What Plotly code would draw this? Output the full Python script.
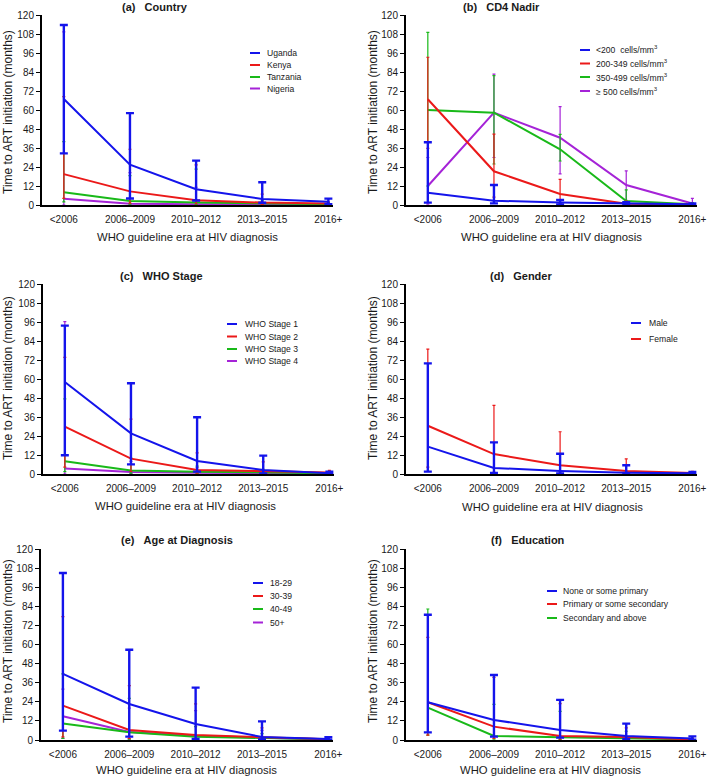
import plotly.graph_objects as go

W, H = 709, 779
FONT = "Liberation Sans, Arial, Helvetica, sans-serif"
TXT = "#1a1a1a"

CATS = ["<2006", "2006–2009", "2010–2012", "2013–2015", "2016+"]
COLORS = ["rgb(20,20,235)", "rgb(235,25,25)", "rgb(25,185,25)", "rgb(165,35,215)"]

# (a) Country — median, upper IQR, lower IQR (months)
COUNTRY_NAMES = ["Uganda", "Kenya", "Tanzania", "Nigeria"]
COUNTRY_MED = [[67, 25.5, 10, 3.8, 2.1], [19.5, 8.6, 3, 1.5, 1], [8, 2.5, 1.5, 0.8, 0.5], [4, 0.8, 0.5, 0.4, 0.3]]
COUNTRY_UP = [[113.7, 58, 28, 14.4, 4], [68.4, 35.2, 25.3, 6.9, 2], [40, 18.5, 22.7, 3, 1.5], [109.4, 20.4, 11.2, 2, 1]]
COUNTRY_LO = [[32.6, 4.1, 2.8, 1.4, 0.5], [4.2, 1.2, 0.8, 0.4, 0.2], [2, 0.5, 0.3, 0.2, 0.1], [0, 0.1, 0.1, 0.1, 0.1]]

# (b) CD4 Nadir
CD4_NAMES = ["&lt;200&nbsp;&nbsp;cells/mm<sup>3</sup>", "200-349 cells/mm<sup>3</sup>",
             "350-499 cells/mm<sup>3</sup>", "≥ 500 cells/mm<sup>3</sup>"]
CD4_MED = [[7.8, 2.7, 1.5, 0.8, 0.4], [66.8, 21.3, 6.9, 0.8, 0.3], [60, 58.3, 35.2, 2.5, 0.5], [12, 58.3, 42.5, 12.6, 1]]
CD4_UP = [[39.6, 12.6, 3.2, 1.7, 0.9], [93.3, 44.8, 16.2, 2.5, 1], [109, 81.7, 44.6, 9.5, 1.5], [30, 82.6, 62.1, 21.5, 4.2]]
CD4_LO = [[1.5, 1, 0.4, 0.2, 0.1], [35.8, 5, 1, 0.2, 0.1], [12, 25.9, 27.8, 0.6, 0.1], [0.6, 30, 19.6, 3, 0.2]]

# (c) WHO Stage
STAGE_NAMES = ["WHO Stage 1", "WHO Stage 2", "WHO Stage 3", "WHO Stage 4"]
STAGE_MED = [[58.1, 25.7, 8.2, 2.5, 0.5], [29.9, 9.7, 2.5, 1.7, 1], [8, 2.2, 1.5, 1, 0.5], [3.4, 1.2, 0.8, 0.5, 0.3]]
STAGE_UP = [[93.7, 57.3, 35.8, 11.6, 1.5], [73.7, 34.7, 13.3, 7.6, 2.3], [47.4, 10, 5, 3, 1], [96.2, 8, 4, 2, 1]]
STAGE_LO = [[11.8, 6.1, 1.5, 0.4, 0.1], [4.4, 1.7, 0.5, 0.3, 0.2], [1.5, 0.5, 0.3, 0.2, 0.1], [0, 0.2, 0.1, 0.1, 0.1]]

# (d) Gender
GENDER_NAMES = ["Male", "Female"]
GENDER_MED = [[17.3, 3.8, 1.9, 0.8, 0.4], [30.5, 12.6, 5.5, 1.9, 0.6]]
GENDER_UP = [[69.9, 20, 12.8, 5.5, 1.3], [78.9, 43.4, 26.7, 9.5, 1.7]]
GENDER_LO = [[1.5, 0.6, 0.4, 0.1, 0.1], [4.4, 1, 0.5, 0.2, 0.1]]

# (e) Age at Diagnosis
AGE_NAMES = ["18-29", "30-39", "40-49", "50+"]
AGE_MED = [[41.5, 22.6, 10, 1.9, 0.6], [21.6, 6.3, 3.1, 1.9, 0.5], [10.3, 4.8, 2.1, 1.2, 0.4], [14.9, 5, 2.6, 1.5, 0.4]]
AGE_UP = [[104.9, 56.7, 32.9, 11.7, 1.7], [77.5, 34.1, 22.7, 7.6, 1.2], [41.5, 26.2, 8.4, 4, 1], [32, 20, 18.5, 6, 1]]
AGE_LO = [[5.9, 2.1, 0.6, 0.3, 0.1], [2, 1, 0.5, 0.3, 0.1], [1, 0.5, 0.3, 0.2, 0.1], [1, 0.5, 0.3, 0.2, 0.1]]

# (f) Education
EDU_NAMES = ["None or some primary", "Primary or some secondary", "Secondary and above"]
EDU_MED = [[23.7, 12.6, 6.3, 2.5, 1], [23.7, 8.4, 2.5, 1.9, 0.4], [20.3, 2.5, 1.7, 1, 0.4]]
EDU_UP = [[78.7, 40.8, 25.2, 10.3, 2.3], [64.5, 39.4, 22.9, 7.6, 1.2], [82.3, 22.4, 18, 5.5, 1]]
EDU_LO = [[4.8, 2.1, 1.5, 0.6, 0.2], [3.1, 1, 0.5, 0.3, 0.1], [3.1, 0.5, 0.3, 0.2, 0.1]]

YTICKS = list(range(0, 121, 12))


def px(x):
    return x / W


def py(y):
    return 1 - y / H


PANELS = [
    dict(letter="(a)", title="Country", names=COUNTRY_NAMES, med=COUNTRY_MED, up=COUNTRY_UP, lo=COUNTRY_LO,
         xd=(42, 333), yd=(15, 205), tpos=(155, 7.5), ytpos=(8, 112), xtpos=(188, 237),
         leg=(250, 260, 265, [53, 65, 77, 88.5])),
    dict(letter="(b)", title="CD4 Nadir", names=CD4_NAMES, med=CD4_MED, up=CD4_UP, lo=CD4_LO,
         xd=(406, 697), yd=(15, 205), tpos=(501, 7.5), ytpos=(373, 112), xtpos=(551, 237),
         leg=(580, 590, 594, [50, 63.5, 77, 91])),
    dict(letter="(c)", title="WHO Stage", names=STAGE_NAMES, med=STAGE_MED, up=STAGE_UP, lo=STAGE_LO,
         xd=(43, 334), yd=(284, 474), tpos=(161, 275.5), ytpos=(8, 378), xtpos=(185, 506),
         leg=(227, 237, 243, [324, 336.5, 349, 361])),
    dict(letter="(d)", title="Gender", names=GENDER_NAMES, med=GENDER_MED, up=GENDER_UP, lo=GENDER_LO,
         xd=(406, 697), yd=(284, 474), tpos=(521, 275.5), ytpos=(373, 378), xtpos=(552, 507),
         leg=(631, 641, 647, [323, 339])),
    dict(letter="(e)", title="Age at Diagnosis", names=AGE_NAMES, med=AGE_MED, up=AGE_UP, lo=AGE_LO,
         xd=(41, 333), yd=(549, 740), tpos=(177, 540), ytpos=(8, 641), xtpos=(186, 770),
         leg=(253, 263, 268, [583, 596, 609, 622.5])),
    dict(letter="(f)", title="Education", names=EDU_NAMES, med=EDU_MED, up=EDU_UP, lo=EDU_LO,
         xd=(406, 697), yd=(549, 740), tpos=(528, 540), ytpos=(373, 641), xtpos=(550, 770),
         leg=(547, 557, 561, [591, 604, 618])),
]

fig = go.Figure()
annotations = []
shapes = []

for i, p in enumerate(PANELS, start=1):
    sfx = "" if i == 1 else str(i)
    n = len(p["names"])
    for k in reversed(range(n)):
        med = p["med"][k]
        plus = [u - m for u, m in zip(p["up"][k], med)]
        minus = [m - l for m, l in zip(med, p["lo"][k])]
        first = k == 0
        fig.add_trace(go.Scatter(
            x=CATS, y=med, mode="lines", name=p["names"][k], showlegend=False,
            line=dict(color=COLORS[k], width=2),
            error_y=dict(type="data", symmetric=False, array=plus, arrayminus=minus,
                         color=COLORS[k], thickness=2.4 if first else 1.2,
                         width=4 if first else 1.5),
            xaxis="x" + sfx, yaxis="y" + sfx,
        ))

    fig.layout["xaxis" + sfx] = dict(
        domain=[px(p["xd"][0]), px(p["xd"][1])], anchor="y" + sfx,
        type="category", categoryorder="array", categoryarray=CATS,
        range=[-0.33, 4.07], showline=True, linecolor="black", linewidth=2,
        ticks="outside", ticklen=4, tickcolor="rgba(0,0,0,0)",
        showgrid=False, zeroline=False, automargin=False,
        tickfont=dict(size=10, color=TXT, family=FONT),
    )
    fig.layout["yaxis" + sfx] = dict(
        domain=[py(p["yd"][1]), py(p["yd"][0])], anchor="x" + sfx,
        range=[0, 120], tickmode="array", tickvals=YTICKS,
        showline=True, linecolor="black", linewidth=2,
        ticks="outside", ticklen=4, tickwidth=1, tickcolor="black",
        showgrid=False, zeroline=False, automargin=False,
        tickfont=dict(size=10, color=TXT, family=FONT),
    )

    annotations.append(dict(
        text="<b>" + p["letter"] + "&nbsp;&nbsp;&nbsp;" + p["title"] + "</b>",
        x=px(p["tpos"][0]), y=py(p["tpos"][1]), xref="paper", yref="paper",
        xanchor="center", yanchor="middle", showarrow=False,
        font=dict(size=11, color=TXT, family=FONT)))
    annotations.append(dict(
        text="Time to ART initiation (months)", textangle=-90,
        x=px(p["ytpos"][0]), y=py(p["ytpos"][1]), xref="paper", yref="paper",
        xanchor="center", yanchor="middle", showarrow=False,
        font=dict(size=12, color=TXT, family=FONT)))
    annotations.append(dict(
        text="WHO guideline era at HIV diagnosis",
        x=px(p["xtpos"][0]), y=py(p["xtpos"][1]), xref="paper", yref="paper",
        xanchor="center", yanchor="middle", showarrow=False,
        font=dict(size=11.3, color=TXT, family=FONT)))
    lx0, lx1, tx, rows = p["leg"]
    for k in range(n):
        shapes.append(dict(type="line", xref="paper", yref="paper",
                           x0=px(lx0), x1=px(lx1), y0=py(rows[k]), y1=py(rows[k]),
                           line=dict(color=COLORS[k], width=2)))
        annotations.append(dict(
            text=p["names"][k], x=px(tx), y=py(rows[k]), xref="paper", yref="paper",
            xanchor="left", yanchor="middle", showarrow=False,
            font=dict(size=8.6, color=TXT, family=FONT)))

fig.update_layout(
    width=W, height=H, margin=dict(l=0, r=0, t=0, b=0),
    paper_bgcolor="white", plot_bgcolor="white",
    font=dict(family=FONT, color=TXT),
    showlegend=False, annotations=annotations, shapes=shapes,
)

fig.write_html("out.html", config={"displayModeBar": False},
               post_script="document.body.style.margin='0px';")
